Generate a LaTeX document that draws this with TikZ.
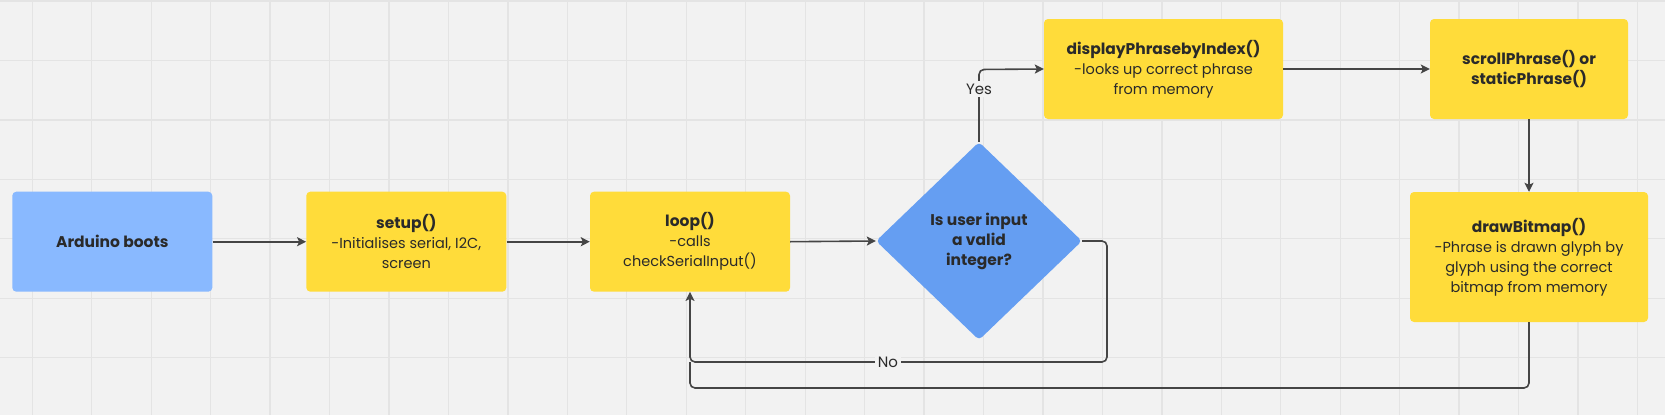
\documentclass[tikz,border=0pt]{standalone}
\usepackage{fontspec}
\setmainfont{Poppins}
\usetikzlibrary{shapes.geometric,arrows.meta}
\definecolor{bgc}{HTML}{F2F2F2}
\definecolor{gridc}{HTML}{E4E4E4}
\definecolor{yel}{HTML}{FFDC3A}
\definecolor{lblue}{HTML}{89B9FF}
\definecolor{dblue}{HTML}{659EF2}
\definecolor{txtc}{HTML}{2A2A2A}
\definecolor{linec}{HTML}{454545}
\newcommand{\hd}[1]{{\fontsize{15.5}{20}\selectfont\bfseries #1}}
\tikzset{
  box/.style={rectangle, rounded corners=4pt, inner sep=0pt, align=center, text=txtc, font=\fontsize{14.5}{20}\selectfont},
  ybox/.style={box, fill=yel},
  bbox/.style={box, fill=lblue},
  decision/.style={diamond, fill=dblue, rounded corners=4pt, inner sep=0pt, minimum width=206pt, minimum height=198pt, align=center, text=txtc, font=\fontsize{15.5}{20}\selectfont\bfseries},
  conn/.style={draw=linec, line width=1.6pt, rounded corners=5pt, -{Stealth[length=9pt,width=9pt,inset=2pt]}},
  plain/.style={draw=linec, line width=1.6pt, rounded corners=5pt},
  lbl/.style={fill=bgc, inner sep=3pt, text=txtc, font=\fontsize{15}{20}\selectfont},
  gridline/.style={draw=gridc, line width=1.3pt}
}
\begin{document}
\begin{tikzpicture}[x=1pt,y=-1pt]
\fill[bgc] (0,0) rectangle (1665,415);
\useasboundingbox (0,0) rectangle (1665,415);
\foreach \i in {0,...,27} { \draw[gridline] ({32.3+\i*59.45},0) -- ({32.3+\i*59.45},415); }
\foreach \j in {0,...,6} { \draw[gridline] (0,{1+\j*59.45}) -- (1665,{1+\j*59.45}); }

\node[bbox, minimum width=200pt, minimum height=100pt] (boot) at (112.3,241.7) {\hd{Arduino boots}};
\node[ybox, minimum width=200pt, minimum height=100pt] (setup) at (406.3,241.7) {\hd{setup()}\\-Initialises serial, I2C,\\screen};
\node[ybox, minimum width=200pt, minimum height=100pt] (loop) at (690,241.7) {\hd{loop()}\\-calls\\checkSerialInput()};
\node[decision] (dec) at (979,241) {Is user input\\a valid\\integer?};
\node[ybox, minimum width=239pt, minimum height=100pt] (disp) at (1163.5,69) {\hd{displayPhrasebyIndex()}\\-looks up correct phrase\\from memory};
\node[ybox, minimum width=198pt, minimum height=100pt] (scroll) at (1529,69) {\hd{scrollPhrase() or}\\\hd{staticPhrase()}};
\node[ybox, minimum width=238pt, minimum height=130pt] (bmp) at (1529,257) {\hd{drawBitmap()}\\-Phrase is drawn glyph by\\glyph using the correct\\bitmap from memory};

\coordinate (yc) at (979,69.5);
\coordinate (nr) at (1107,362);
\coordinate (nl) at (690,362);
\coordinate (bl) at (690,388);

\draw[conn] (boot.east) -- (setup.west);
\draw[conn] (setup.east) -- (loop.west);
\draw[conn] (loop.east) -- (dec.west);
\draw[conn] (dec.north) -- (yc) -- (disp.west);
\node[lbl] (yes) at (979,89) {Yes};
\draw[conn] (disp.east) -- (scroll.west);
\draw[conn] (scroll.south) -- (bmp.north);
\draw[conn] (dec.east) -| (nr) -- (nl) -- (loop.south);
\node[lbl] (no) at (888,362) {No};
\draw[plain] (bmp.south) |- (bl) -- (nl);
\end{tikzpicture}
\end{document}
